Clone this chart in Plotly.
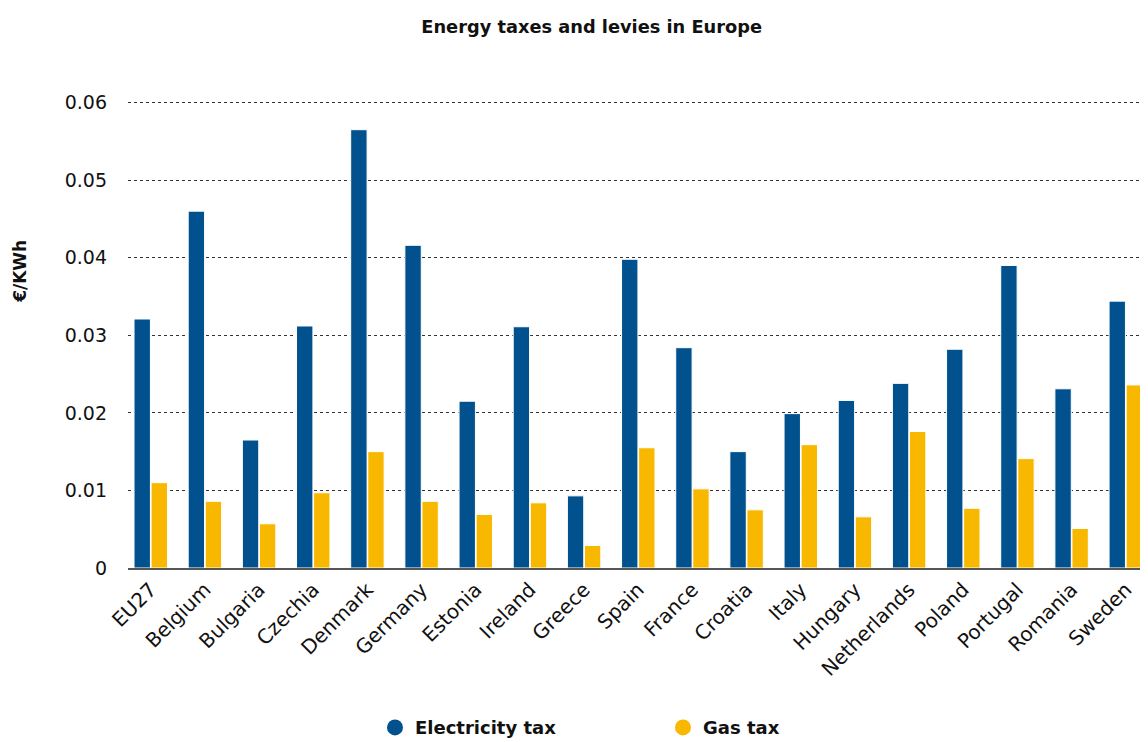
import plotly.graph_objects as go

countries = ["EU27", "Belgium", "Bulgaria", "Czechia", "Denmark", "Germany", "Estonia",
             "Ireland", "Greece", "Spain", "France", "Croatia", "Italy", "Hungary",
             "Netherlands", "Poland", "Portugal", "Romania", "Sweden"]
electricity_tax = [0.0321, 0.0460, 0.0165, 0.0312, 0.0565, 0.0416, 0.0215,
                   0.0311, 0.0093, 0.0398, 0.0284, 0.0150, 0.0199, 0.0216,
                   0.0238, 0.0282, 0.0390, 0.0231, 0.0344]
gas_tax = [0.0110, 0.0086, 0.0057, 0.0097, 0.0150, 0.0086, 0.0069,
           0.0084, 0.0029, 0.0155, 0.0102, 0.0075, 0.0159, 0.0066,
           0.0176, 0.0077, 0.0141, 0.0051, 0.0236]
y_ticks = [0, 0.01, 0.02, 0.03, 0.04, 0.05, 0.06]
y_tick_labels = ["0", "0.01", "0.02", "0.03", "0.04", "0.05", "0.06"]

BLUE = "#00518E"
GOLD = "#F9B800"
FONT = "DejaVu Sans"
INK = "#111111"

fig = go.Figure()
fig.add_trace(go.Bar(name="Electricity tax", x=countries, y=electricity_tax,
                     marker=dict(color=BLUE, line=dict(color="white", width=1)),
                     showlegend=False))
fig.add_trace(go.Bar(name="Gas tax", x=countries, y=gas_tax,
                     marker=dict(color=GOLD, line=dict(color="white", width=1)),
                     showlegend=False))
# legend entries with circle markers
fig.add_trace(go.Scatter(name="Electricity tax", x=[None], y=[None], mode="markers",
                         marker=dict(color=BLUE, size=20, symbol="circle")))
fig.add_trace(go.Scatter(name="Gas tax", x=[None], y=[None], mode="markers",
                         marker=dict(color=GOLD, size=20, symbol="circle")))

fig.update_layout(
    width=1140, height=734,
    margin=dict(l=120, r=0, t=93, b=174, autoexpand=False),
    paper_bgcolor="white", plot_bgcolor="white",
    font=dict(family=FONT, color=INK),
    title=dict(text="Energy taxes and levies in Europe", x=0.512, xanchor="center",
               y=1 - 19 / 734, yanchor="middle",
               font=dict(family=FONT, size=17.8, weight="bold", color=INK)),
    barmode="group", bargap=0.37, bargroupgap=0.04,
    showlegend=True,
    legend=dict(orientation="h", x=0.5245, xanchor="center", y=-0.342, yanchor="middle",
                font=dict(family=FONT, size=18, weight="bold", color=INK),
                entrywidth=243, itemsizing="trace"),
    xaxis=dict(range=[-0.42, 18.41], tickangle=-45, showgrid=False,
               showline=True, linecolor="#555555", linewidth=2,
               ticks="", tickfont=dict(family=FONT, size=20, color=INK)),
    yaxis=dict(range=[0, 0.0602], tickvals=y_ticks, ticktext=y_tick_labels,
               showgrid=True, gridcolor="#333333", gridwidth=1, griddash="dot",
               zeroline=False, showline=False, ticks="", ticklabelstandoff=20,
               tickfont=dict(family=FONT, size=19, color=INK)),
    annotations=[dict(text="€/KWh", xref="paper", yref="paper", x=-0.106, y=0.636,
                      xanchor="center", yanchor="middle", textangle=-90, showarrow=False,
                      font=dict(family=FONT, size=17, weight="bold", color=INK))],
)

fig.write_html("out.html")
